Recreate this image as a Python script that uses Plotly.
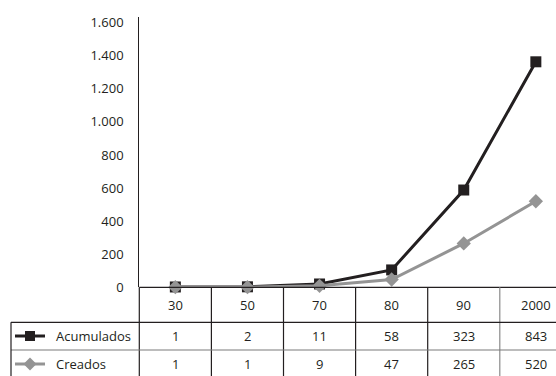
import plotly.graph_objects as go

categories = ["30", "50", "70", "80", "90", "2000"]
acumulados = [1, 2, 11, 58, 323, 843]
creados = [1, 1, 9, 47, 265, 520]
series_names = ["Acumulados", "Creados"]
y_ticks = [0, 200, 400, 600, 800, 1000, 1200, 1400, 1600]
y_tick_labels = ["0", "200", "400", "600", "800", "1.000", "1.200", "1.400", "1.600"]

W, H = 556, 376
FONT = "Open Sans"
TXT = "#231f20"
BLACK = "#231f20"
GRAY = "#949494"


def fx(px):
    return px / W


def fy(py):
    return 1 - py / H


# stacked line chart: the Acumulados line sits on top of Creados
acum_stacked = [a + c for a, c in zip(acumulados, creados)]
xi = list(range(len(categories)))

fig = go.Figure()
fig.add_trace(go.Scatter(
    x=xi, y=acum_stacked, mode="lines+markers", name=series_names[0],
    line=dict(color=BLACK, width=3),
    marker=dict(symbol="square", size=11, color=BLACK),
    cliponaxis=False, showlegend=False,
))
fig.add_trace(go.Scatter(
    x=xi, y=creados, mode="lines+markers", name=series_names[1],
    line=dict(color=GRAY, width=3),
    marker=dict(symbol="diamond", size=11, color=GRAY),
    cliponaxis=False, showlegend=False,
))

axis_left = 139.3
col_w = 72.1
x_end = (W - axis_left) / col_w - 0.5

shapes = []
shapes.append(dict(type="line", xref="paper", yref="paper", x0=fx(axis_left), x1=1,
                   y0=fy(287.3), y1=fy(287.3), line=dict(color=BLACK, width=1.2)))
shapes.append(dict(type="line", xref="paper", yref="paper", x0=fx(axis_left), x1=fx(axis_left),
                   y0=fy(287.3), y1=0, line=dict(color=BLACK, width=1.2)))
for i in range(1, len(categories)):
    col = BLACK if i < 5 else "#8a8a8a"
    shapes.append(dict(type="line", xref="x", yref="paper", x0=i - 0.5, x1=i - 0.5,
                       y0=fy(287.3), y1=0, line=dict(color=col, width=1.2)))
shapes.append(dict(type="line", xref="paper", yref="paper", x0=fx(11), x1=1,
                   y0=fy(322.3), y1=fy(322.3), line=dict(color=BLACK, width=1.2)))
shapes.append(dict(type="line", xref="paper", yref="paper", x0=fx(11), x1=1,
                   y0=fy(350), y1=fy(350), line=dict(color="#7a7a7a", width=1.2)))
shapes.append(dict(type="line", xref="paper", yref="paper", x0=fx(11), x1=fx(11),
                   y0=fy(322.3), y1=0, line=dict(color=BLACK, width=1.2)))

row_y = [336, 364]
glyph_cols = [BLACK, GRAY]
for r, (yy, c) in enumerate(zip(row_y, glyph_cols)):
    shapes.append(dict(type="line", xref="paper", yref="paper", x0=fx(15), x1=fx(45),
                       y0=fy(yy), y1=fy(yy), line=dict(color=c, width=3)))
    if r == 0:
        shapes.append(dict(type="rect", xref="paper", yref="paper", x0=fx(25), x1=fx(35),
                           y0=fy(yy - 5), y1=fy(yy + 5), line=dict(width=0), fillcolor=c))
    else:
        path = "M {} {} L {} {} L {} {} L {} {} Z".format(
            fx(23.5), fy(yy), fx(30), fy(yy - 6.5), fx(36.5), fy(yy), fx(30), fy(yy + 6.5))
        shapes.append(dict(type="path", xref="paper", yref="paper", path=path,
                           line=dict(width=0), fillcolor=c))

annotations = []
for i, cat in enumerate(categories):
    annotations.append(dict(x=i, y=fy(305), xref="x", yref="paper", text=cat,
                            showarrow=False, xanchor="center", yanchor="middle",
                            font=dict(family=FONT, size=13, color=TXT)))
for r, vals in enumerate([acumulados, creados]):
    for i, v in enumerate(vals):
        annotations.append(dict(x=i, y=fy(row_y[r]), xref="x", yref="paper", text=str(v),
                                showarrow=False, xanchor="center", yanchor="middle",
                                font=dict(family=FONT, size=13, color=TXT)))
    annotations.append(dict(x=fx(54), y=fy(row_y[r]), xref="paper", yref="paper",
                            text=series_names[r], showarrow=False, xanchor="left",
                            yanchor="middle", font=dict(family=FONT, size=13, color=TXT)))

fig.update_layout(
    width=W, height=H,
    margin=dict(l=0, r=0, t=0, b=0, autoexpand=False),
    paper_bgcolor="white", plot_bgcolor="white",
    xaxis=dict(domain=[fx(axis_left), 1], range=[-0.5, x_end], visible=False, automargin=False),
    yaxis=dict(domain=[fy(287.3), fy(17.3)], range=[0, 1632], automargin=False,
               tickvals=y_ticks, ticktext=y_tick_labels,
               showgrid=False, zeroline=False,
               showline=True, linecolor=BLACK, linewidth=1.2,
               ticks="", ticklabelstandoff=12,
               tickfont=dict(family=FONT, size=13, color=TXT)),
    shapes=shapes,
    annotations=annotations,
)

fig.write_html("out.html")
